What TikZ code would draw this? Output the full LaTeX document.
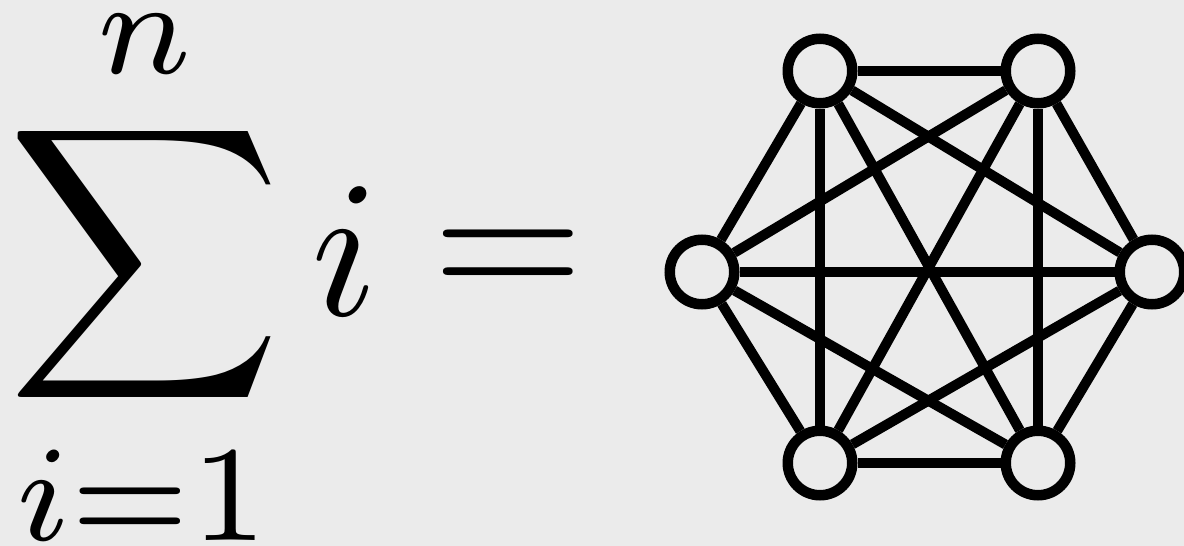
\documentclass[tikz,border=0pt]{standalone}
\definecolor{bg}{RGB}{235,235,235}
\begin{document}
\begin{tikzpicture}[x=1pt,y=-1pt,
  txt/.style={inner sep=0pt,outer sep=0pt,scale=19.5},
  vtx/.style={circle,draw,line width=10.5pt,fill=bg,minimum size=64.5pt,inner sep=0pt},
  link/.style={line width=10pt}]
\fill[bg] (0,0) rectangle (1184,546);
\useasboundingbox (0,0) rectangle (1184,546);
% formula
\node[txt,scale=19/19.5] (sig) at (144.5,264.5) {$\displaystyle\sum$};
\node[txt] (up) at (144.5,44.5) {$\scriptstyle n$};
\node[txt,anchor=base] (lo) at (141.5,540) {$\scriptstyle i=1$};
\node[txt] (iv) at (345.5,251) {$i$};
\node[txt] (eq) at (508.5,265.5) {$=$};
% graph
\node[vtx] (a) at (820,71) {};
\node[vtx] (b) at (1038,71) {};
\node[vtx] (c) at (702,272) {};
\node[vtx] (d) at (1152,272) {};
\node[vtx] (e) at (820,463) {};
\node[vtx] (f) at (1038,463) {};
\foreach \p/\q in {a/b,a/c,a/d,a/e,a/f,b/c,b/d,b/e,b/f,c/d,c/e,c/f,d/e,d/f,e/f}
  \draw[link] (\p) -- (\q);
\end{tikzpicture}
\end{document}
